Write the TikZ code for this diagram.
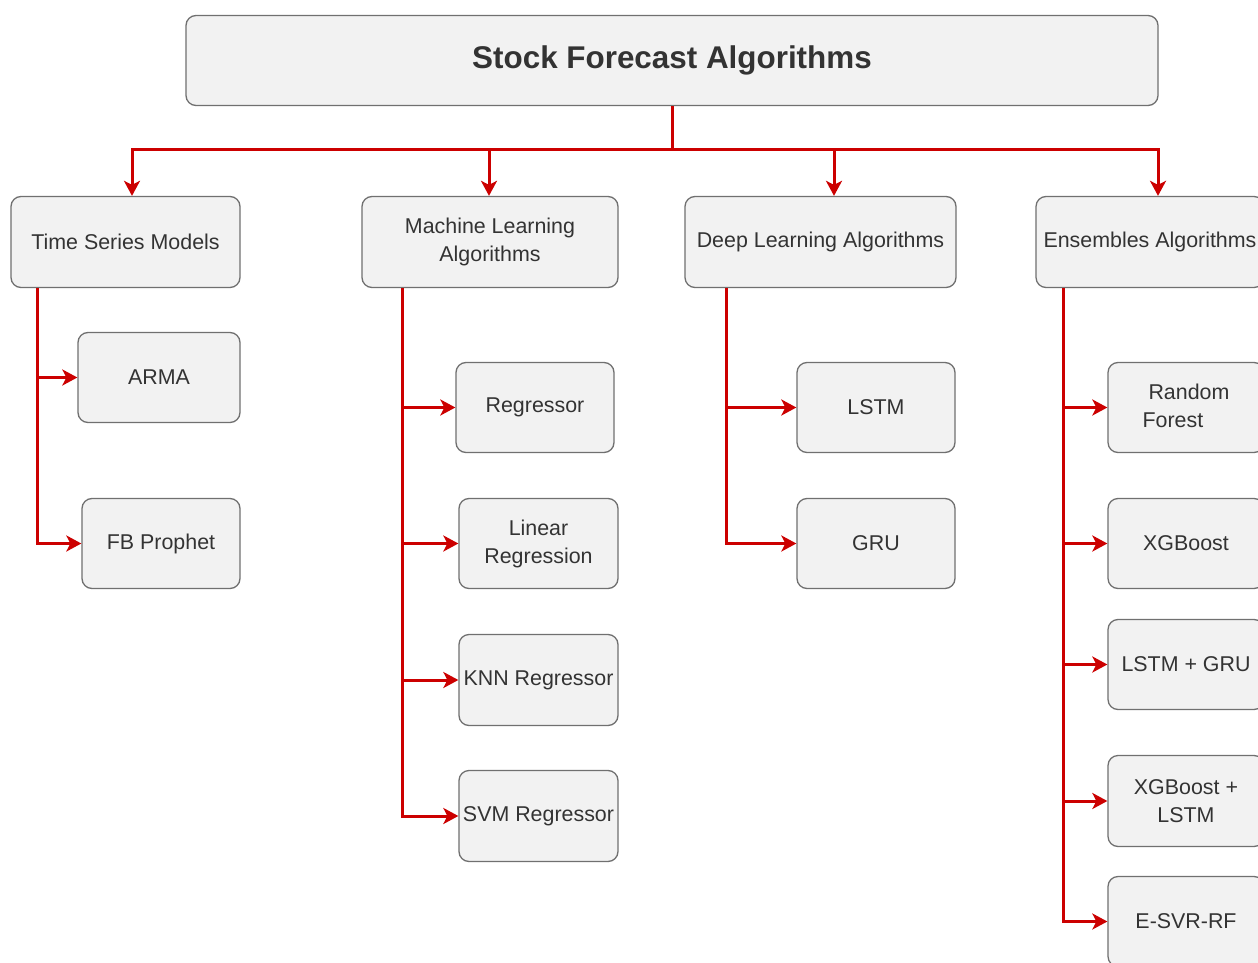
\documentclass[tikz,border=0pt]{standalone}
\usepackage{fontspec}
\setmainfont{Liberation Sans}
\usetikzlibrary{arrows.meta}
\definecolor{linkred}{RGB}{204,0,0}
\definecolor{boxfill}{RGB}{242,242,242}
\definecolor{boxline}{RGB}{112,112,112}
\definecolor{txt}{RGB}{51,51,51}

\begin{document}
\begin{tikzpicture}[x=1pt,y=-1pt,
  card/.style={draw=boxline, fill=boxfill, line width=1.3pt, rounded corners=10pt,
    text=txt, font=\fontsize{21.4}{28}\selectfont, align=center, inner sep=0pt,
    minimum height=90pt},
  headcard/.style={card, font=\fontsize{31.4}{36}\selectfont\bfseries},
  link/.style={draw=linkred, line width=3pt},
  tip/.style={-{Stealth[length=15pt,width=16pt,inset=4pt]}}
]
\useasboundingbox (0,0) rectangle (1258,963);
\fill[white] (0,0) rectangle (1258,963);
\clip (0,0) rectangle (1258,963);

% root
\node[headcard, minimum width=972pt] (title) at (672,60.5) {Stock Forecast Algorithms};

% categories
\node[card, minimum width=229pt, minimum height=91pt] (ts) at (125.5,242) {Time Series Models};
\node[card, minimum width=256pt, minimum height=91pt] (ml) at (490,242) {Machine Learning\\Algorithms};
\node[card, minimum width=271pt, minimum height=91pt] (dl) at (820.5,242) {Deep Learning Algorithms};
\node[card, minimum width=228pt, minimum height=91pt] (en) at (1150,242) {Ensembles Algorithms};

% time series models
\node[card, minimum width=162pt] (arma) at (159,377.5) {ARMA};
\node[card, minimum width=158pt] (fbp) at (161,543.5) {FB Prophet};

% machine learning
\node[card, minimum width=158pt] (reg) at (535,407.5) {Regressor};
\node[card, minimum width=159pt] (lin) at (538.5,543.5) {Linear\\Regression};
\node[card, minimum width=159pt, minimum height=91pt] (knn) at (538.5,680) {KNN Regressor};
\node[card, minimum width=159pt, minimum height=91pt] (svm) at (538.5,816) {SVM Regressor};

% deep learning
\node[card, minimum width=158pt] (lstm) at (876,407.5) {LSTM};
\node[card, minimum width=158pt] (gru) at (876,543.5) {GRU};

% ensembles
\node[card, minimum width=156pt] (rf) at (1186,407.5) {\begin{tabular}{@{}l@{}}\ Random\\Forest\end{tabular}};
\node[card, minimum width=156pt] (xgb) at (1186,543.5) {XGBoost};
\node[card, minimum width=156pt] (lg) at (1186,664.5) {LSTM + GRU};
\node[card, minimum width=156pt, minimum height=91pt] (xl) at (1186,801) {XGBoost +\\LSTM};
\node[card, minimum width=156pt] (esvr) at (1186,921.5) {E-SVR-RF};

% root to categories
\coordinate (bus) at (672,150);
\draw[link] (title.south) -- (bus);
\draw[link, tip] (bus) -| ([xshift=6.5pt]ts.north);
\draw[link, tip] (bus) -| ([xshift=-1pt]ml.north);
\draw[link, tip] (bus) -| ([xshift=13.5pt]dl.north);
\draw[link, tip] (bus) -| ([xshift=8pt]en.north);

% categories to members
\foreach \child in {arma, fbp}
  \draw[link, tip] ([xshift=-88.5pt]ts.south) |- (\child.west);
\foreach \child in {reg, lin, knn, svm}
  \draw[link, tip] ([xshift=-88pt]ml.south) |- (\child.west);
\foreach \child in {lstm, gru}
  \draw[link, tip] ([xshift=-94.5pt]dl.south) |- (\child.west);
\foreach \child in {rf, xgb, lg, xl, esvr}
  \draw[link, tip] ([xshift=-87pt]en.south) |- (\child.west);
\end{tikzpicture}
\end{document}
